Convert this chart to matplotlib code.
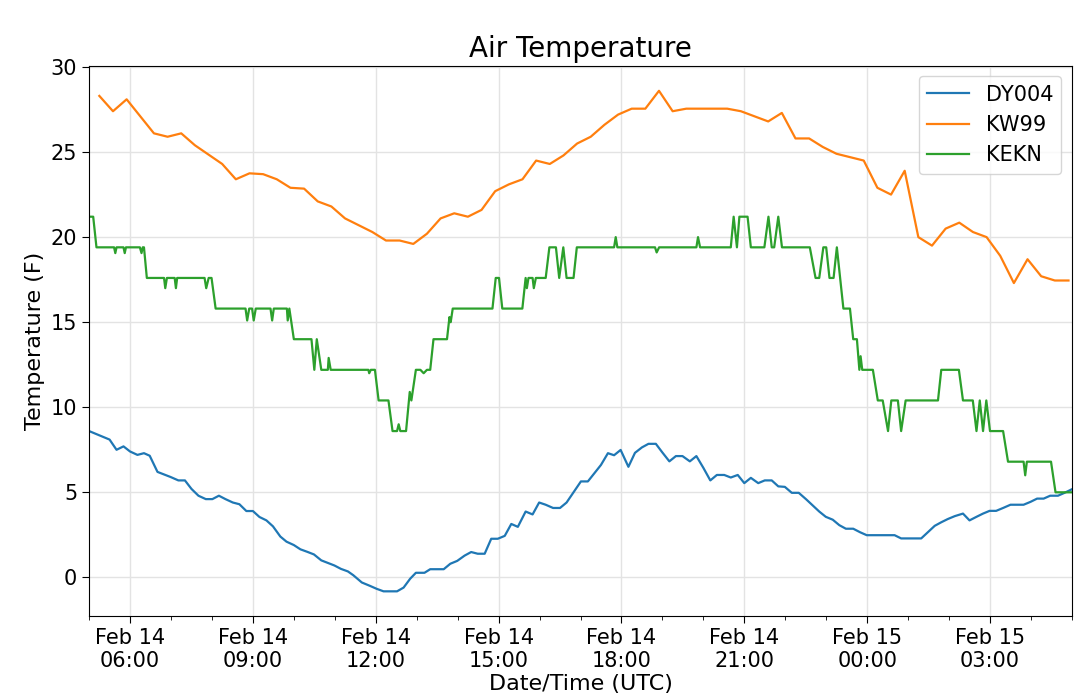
import numpy as np
import pandas as pd
import matplotlib
matplotlib.use("Agg")
import matplotlib.pyplot as plt
import matplotlib.dates as mdates

# debut de la fenetre (UTC)
t0 = pd.Timestamp("2019-02-14 05:00")
t_end = pd.Timestamp("2019-02-15 05:00")

# DY004 : (heures depuis t0, temperature F)
dy004 = [
    (0.0, 8.6), (0.5, 8.1), (0.67, 7.5), (0.84, 7.7), (1.0, 7.4), (1.18, 7.2),
    (1.34, 7.3), (1.48, 7.15), (1.67, 6.2), (1.99, 5.9), (2.18, 5.7), (2.34, 5.7),
    (2.5, 5.2), (2.67, 4.8), (2.85, 4.6), (3.01, 4.6), (3.17, 4.8), (3.33, 4.6),
    (3.51, 4.4), (3.67, 4.3), (3.84, 3.9), (4.0, 3.9), (4.16, 3.55), (4.33, 3.35),
    (4.49, 3.0), (4.67, 2.4), (4.82, 2.1), (5.0, 1.9), (5.16, 1.65), (5.33, 1.5),
    (5.49, 1.35), (5.67, 1.0), (5.83, 0.85), (5.99, 0.7), (6.15, 0.5), (6.32, 0.35),
    (6.45, 0.13), (6.66, -0.3), (6.86, -0.5), (7.02, -0.67), (7.19, -0.82), (7.52, -0.82),
    (7.68, -0.6), (7.84, -0.08), (7.98, 0.27), (8.19, 0.27), (8.33, 0.48), (8.66, 0.48),
    (8.82, 0.8), (8.99, 0.97), (9.17, 1.28), (9.33, 1.49), (9.49, 1.39), (9.66, 1.39),
    (9.82, 2.27), (9.98, 2.27), (10.15, 2.44), (10.31, 3.14), (10.47, 2.97), (10.66, 3.87),
    (10.83, 3.7), (10.99, 4.4), (11.15, 4.27), (11.33, 4.08), (11.5, 4.08), (11.66, 4.4),
    (11.82, 4.97), (12.01, 5.64), (12.18, 5.64), (12.34, 6.12), (12.5, 6.61), (12.67, 7.3),
    (12.82, 7.18), (12.98, 7.49), (13.17, 6.5), (13.33, 7.32), (13.5, 7.64), (13.66, 7.85),
    (13.84, 7.85), (14.0, 7.34), (14.17, 6.82), (14.33, 7.13), (14.49, 7.13), (14.67, 6.82),
    (14.83, 7.13), (15.0, 6.44), (15.17, 5.7), (15.33, 6.02), (15.51, 6.02), (15.67, 5.87),
    (15.84, 6.02), (16.0, 5.54), (16.16, 5.85), (16.34, 5.54), (16.5, 5.7), (16.67, 5.7),
    (16.83, 5.35), (16.99, 5.32), (17.16, 4.97), (17.33, 4.97), (17.51, 4.59), (17.67, 4.23),
    (17.83, 3.87), (17.99, 3.56), (18.16, 3.39), (18.32, 3.07), (18.48, 2.86), (18.66, 2.86),
    (18.83, 2.65), (18.99, 2.48), (19.67, 2.48), (19.83, 2.29), (20.32, 2.29), (20.48, 2.65),
    (20.65, 3.03), (20.81, 3.24), (20.97, 3.43), (21.14, 3.6), (21.34, 3.75), (21.5, 3.35),
    (21.67, 3.56), (21.83, 3.75), (21.99, 3.91), (22.15, 3.91), (22.32, 4.08), (22.5, 4.27),
    (22.82, 4.27), (22.99, 4.44), (23.15, 4.63), (23.31, 4.63), (23.47, 4.8), (23.66, 4.8),
    (23.82, 4.97), (24.0, 5.18),
]

# KW99 : releves toutes les 20 min a partir de 05:15
kw99_start = pd.Timestamp("2019-02-14 05:15")
kw99 = [
    28.3, 27.4, 28.1, 27.1, 26.1, 25.9, 26.1, 25.4, 24.85, 24.3, 23.4, 23.75,
    23.7, 23.4, 22.9, 22.85, 22.1, 21.8, 21.1, 20.7, 20.3, 19.8, 19.8, 19.6,
    20.2, 21.1, 21.4, 21.2, 21.6, 22.7, 23.1, 23.4, 24.5, 24.3, 24.8, 25.5,
    25.9, 26.6, 27.2, 27.55, 27.55, 28.6, 27.4, 27.55, 27.55, 27.55, 27.55, 27.4,
    27.1, 26.8, 27.3, 25.8, 25.8, 25.3, 24.9, 24.7, 24.5, 22.9, 22.5, 23.9,
    20.0, 19.5, 20.5, 20.85, 20.3, 20.0, 18.9, 17.3, 18.7, 17.7, 17.45, 17.45,
]

# KEKN : (heures depuis t0, temperature F)
kekn = [
    (0.0, 21.2), (0.1, 21.2), (0.18, 19.4), (0.61, 19.4), (0.64, 19.06), (0.67, 19.4),
    (0.84, 19.4), (0.87, 19.06), (0.9, 19.4), (1.24, 19.4), (1.28, 19.06), (1.31, 19.4),
    (1.34, 19.4), (1.41, 17.6), (1.83, 17.6), (1.86, 17.0), (1.9, 17.6), (2.09, 17.6),
    (2.12, 17.0), (2.15, 17.6), (2.82, 17.6), (2.86, 17.0), (2.92, 17.6), (2.99, 17.6),
    (3.09, 15.8), (3.82, 15.8), (3.86, 15.1), (3.91, 15.8), (3.98, 15.8), (4.02, 15.1),
    (4.07, 15.8), (4.43, 15.8), (4.47, 15.1), (4.51, 15.8), (4.83, 15.8), (4.85, 15.1),
    (4.89, 15.8), (5.0, 14.0), (5.43, 14.0), (5.5, 12.2), (5.56, 14.0), (5.67, 12.2),
    (5.83, 12.2), (5.85, 12.9), (5.9, 12.2), (6.82, 12.2), (6.84, 12.0), (6.88, 12.2),
    (6.98, 12.2), (7.07, 10.4), (7.31, 10.4), (7.41, 8.6), (7.52, 8.6), (7.56, 9.0),
    (7.6, 8.6), (7.74, 8.6), (7.83, 10.9), (7.87, 10.4), (7.98, 12.2), (8.09, 12.2),
    (8.17, 12.0), (8.25, 12.2), (8.33, 12.2), (8.41, 14.0), (8.74, 14.0), (8.8, 15.3),
    (8.83, 15.0), (8.88, 15.8), (9.85, 15.8), (9.93, 17.6), (10.01, 17.6), (10.09, 15.8),
    (10.58, 15.8), (10.66, 17.6), (10.69, 17.0), (10.73, 17.6), (10.83, 17.6), (10.86, 17.0),
    (10.91, 17.6), (11.15, 17.6), (11.24, 19.4), (11.4, 19.4), (11.48, 17.6), (11.58, 19.4),
    (11.66, 17.6), (11.83, 17.6), (11.91, 19.4), (12.82, 19.4), (12.86, 20.0), (12.9, 19.4),
    (13.82, 19.4), (13.86, 19.1), (13.92, 19.4), (14.83, 19.4), (14.87, 20.0), (14.92, 19.4),
    (15.67, 19.4), (15.74, 21.2), (15.82, 19.4), (15.88, 21.2), (16.08, 21.2), (16.16, 19.4),
    (16.49, 19.4), (16.59, 21.2), (16.67, 19.4), (16.73, 19.4), (16.83, 21.2), (16.92, 19.4),
    (17.6, 19.4), (17.74, 17.6), (17.83, 17.6), (17.93, 19.4), (18.0, 19.4), (18.08, 17.6),
    (18.18, 17.6), (18.26, 19.4), (18.42, 15.8), (18.58, 15.8), (18.66, 14.0), (18.75, 14.0),
    (18.81, 12.2), (18.84, 13.0), (18.88, 12.2), (19.14, 12.2), (19.26, 10.4), (19.38, 10.4),
    (19.51, 8.6), (19.59, 10.4), (19.75, 10.4), (19.83, 8.6), (19.94, 10.4), (20.73, 10.4),
    (20.81, 12.2), (21.24, 12.2), (21.34, 10.4), (21.58, 10.4), (21.67, 8.6), (21.75, 10.4),
    (21.83, 8.6), (21.91, 10.4), (22.0, 8.6), (22.32, 8.6), (22.44, 6.8), (22.82, 6.8),
    (22.86, 6.0), (22.9, 6.8), (23.49, 6.8), (23.6, 5.0), (24.0, 5.0),
]


def to_times(hours):
    return t0 + pd.to_timedelta(np.array(hours), unit="h")


dy_h, dy_t = zip(*dy004)
ke_h, ke_t = zip(*kekn)
kw_times = pd.date_range(kw99_start, periods=len(kw99), freq="20min")

fig = plt.figure(figsize=(10.8, 7.0), dpi=100)
ax = fig.add_axes([0.0825, 0.12, 0.91, 0.786])

ax.plot(to_times(dy_h), dy_t, color="tab:blue", lw=1.6, label="DY004")
ax.plot(kw_times, kw99, color="tab:orange", lw=1.6, label="KW99")
ax.plot(to_times(ke_h), ke_t, color="tab:green", lw=1.6, label="KEKN")

ax.set_xlim(t0, t_end)
ax.set_ylim(-2.27, 30.07)
ax.set_yticks([0, 5, 10, 15, 20, 25, 30])

ax.xaxis.set_major_locator(mdates.HourLocator(byhour=range(0, 24, 3)))
ax.xaxis.set_minor_locator(mdates.HourLocator())
ax.xaxis.set_major_formatter(mdates.DateFormatter("%b %d\n%H:%M"))
ax.tick_params(axis="both", which="major", labelsize=15, length=5)
ax.tick_params(axis="x", which="minor", length=3)
ax.grid(True, which="major", color="#e3e3e3", lw=1.0)

ax.set_title("Air Temperature", fontsize=20)
ax.set_xlabel("Date/Time (UTC)", fontsize=16, labelpad=2)
ax.set_ylabel("Temperature (F)", fontsize=16)
ax.legend(loc="upper right", fontsize=15)

fig.savefig("out.png", dpi=100)
